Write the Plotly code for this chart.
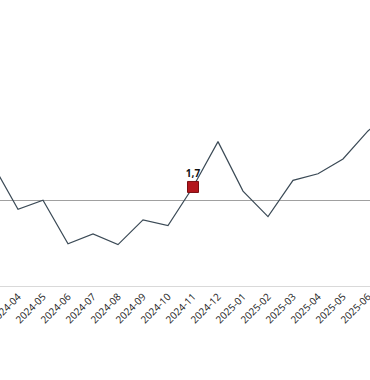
import plotly.graph_objects as go

months = ["2024-03", "2024-04", "2024-05", "2024-06", "2024-07", "2024-08", "2024-09",
          "2024-10", "2024-11", "2024-12", "2025-01", "2025-02", "2025-03", "2025-04",
          "2025-05", "2025-06", "2025-07"]
values = [4.4, -1.0, 0.1, -5.2, -4.0, -5.3, -2.3, -3.0, 1.7, 7.2, 1.2, -1.9, 2.5, 3.3, 5.1, 8.5, 11.0]

highlight_month = ["2024-11"]
highlight_value = [1.7]

fig = go.Figure()
fig.add_trace(go.Scatter(
    x=months, y=values, mode="lines",
    line=dict(color="#3b4a56", width=1.2),
    hoverinfo="skip", showlegend=False,
))
fig.add_trace(go.Scatter(
    x=highlight_month, y=highlight_value, mode="markers+text",
    marker=dict(symbol="square", size=11, color="#b3161d",
                line=dict(color="#7a0e12", width=1)),
    texttemplate="%{y:.1f}", textposition="top center",
    textfont=dict(family="Open Sans, Arial, sans-serif", size=10, color="#111111", weight="bold"),
    hoverinfo="skip", showlegend=False,
))

fig.update_layout(
    width=370, height=380,
    margin=dict(l=0, r=0, t=0, b=94, autoexpand=False),
    paper_bgcolor="white", plot_bgcolor="white",
    separators=", ",
    hovermode=False,
    font=dict(family="Open Sans, Arial, sans-serif", size=10, color="#1a1a1a"),
    xaxis=dict(
        type="category", categoryorder="array", categoryarray=months,
        range=[0.28, 15.08], tickangle=-45, showgrid=False, automargin=False,
        showline=True, linecolor="#d9d9d9", linewidth=1,
        ticks="", zeroline=False, tickfont=dict(size=10, color="#1a1a1a"),
    ),
    yaxis=dict(
        range=[-10.32, 24.39], showgrid=False, showticklabels=False, automargin=False,
        zeroline=True, zerolinecolor="#a0a0a0", zerolinewidth=1,
        showline=False, ticks="",
    ),
)

fig.write_html(
    "out.html",
    config={"displayModeBar": False, "staticPlot": True},
    post_script="document.body.style.margin='0';document.body.style.overflow='hidden';",
)
